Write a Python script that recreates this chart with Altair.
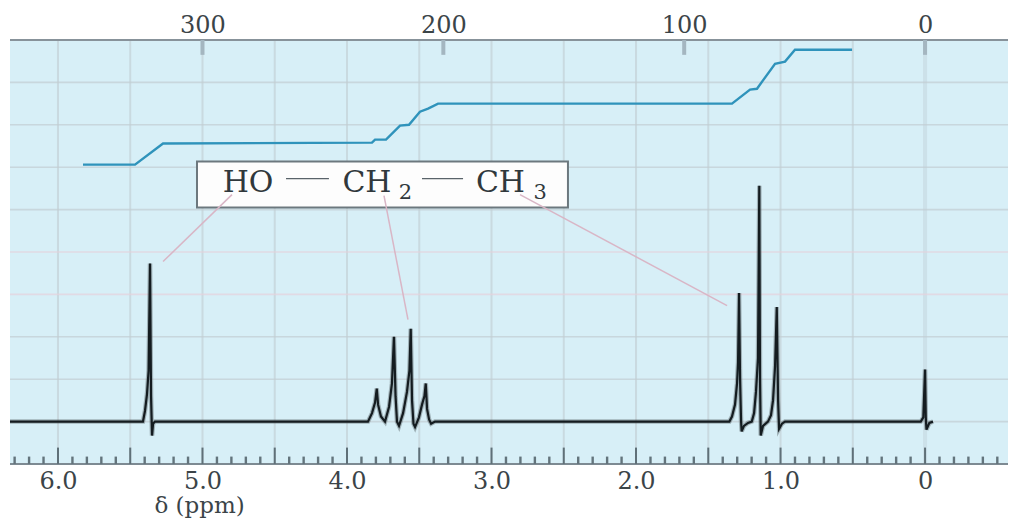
import altair as alt
import pandas as pd

# spectrum trace: delta in ppm, signal in grid divisions above the baseline
spec_ppm = [6.332, 5.412, 5.398, 5.384, 5.373, 5.363, 5.356, 5.349, 5.342, 5.329,
            3.855, 3.827, 3.806, 3.794, 3.785, 3.765, 3.737, 3.709, 3.689, 3.675, 3.664, 3.654, 3.640,
            3.612, 3.585, 3.568, 3.559, 3.550, 3.540, 3.529, 3.502, 3.481, 3.464, 3.455, 3.446, 3.432, 3.418, 3.391,
            1.354, 1.336, 1.315, 1.301, 1.294, 1.287, 1.280, 1.273, 1.269, 1.253, 1.225, 1.199,
            1.183, 1.170, 1.156, 1.147, 1.142, 1.137, 1.121, 1.087,
            1.066, 1.052, 1.038, 1.026, 1.017, 1.010, 0.990, 0.969,
            0.030, 0.012, 0.000, -0.005, -0.010, -0.030, -0.055]
spec_int = [0, 0, 0.25, 0.65, 1.2, 3.73, 0.6, -0.33, -0.05, 0,
            0, 0.2, 0.45, 0.78, 0.4, 0.12, 0, 0.35, 0.9, 2.0, 0.6, 0, -0.1,
            0.2, 0.7, 1.2, 2.19, 0.5, -0.05, -0.13, 0.1, 0.4, 0.6, 0.9, 0.3, 0.05, -0.05, 0,
            0, 0.12, 0.4, 0.9, 1.4, 3.03, 1.0, 0, -0.23, -0.1, -0.03, 0,
            0.2, 0.7, 1.5, 5.56, 1.0, -0.33, -0.1, 0,
            0.15, 0.5, 1.3, 2.7, 0.5, -0.17, -0.05, 0,
            0, 0.1, 1.23, 0.1, -0.19, -0.03, 0]

# integral trace
integ_ppm = [5.827, 5.467, 5.273, 3.827, 3.806, 3.730, 3.633, 3.571, 3.495, 3.439, 3.370,
             1.336, 1.211, 1.163, 1.038, 0.969, 0.900, 0.505]
integ_val = [6.06, 6.06, 6.56, 6.58, 6.65, 6.65, 6.98, 7.00, 7.31, 7.38, 7.50,
             7.50, 7.83, 7.85, 8.44, 8.49, 8.77, 8.77]

major_ppm = [0, 0.5, 1, 1.5, 2, 2.5, 3, 3.5, 4, 4.5, 5, 5.5, 6]
minor_ppm = [i / 10 for i in range(-5, 64) if i % 5 != 0 or i < 0]
bottom_labels = [0, 1, 2, 3, 4, 5, 6]
top_hz = [300, 200, 100, 0]
gray_rows = [1, 2, 5, 6, 7, 8, 0]
pink_rows = [3, 4]

# label box
box_ppm = [5.038, 2.471]
box_int = [6.132, 5.047]
label_text = ["HO", "CH", "2", "CH", "3"]
label_ppm = [4.685, 3.862, 3.595, 2.938, 2.664]
label_int = [5.62, 5.62, 5.40, 5.62, 5.40]
label_size = [30, 30, 21, 30, 21]
bond_ppm = [4.422, 3.481]
bond_ppm2 = [4.125, 3.197]
bond_int = [5.731, 5.731]
leader_id = [0, 0, 1, 1, 2, 2]
leader_ppm = [4.796, 5.273, 3.744, 3.578, 2.803, 1.370]
leader_int = [5.354, 3.774, 5.33, 2.406, 5.354, 2.736]

LEFT = 6.332
RIGHT = -0.574
X = alt.Scale(domain=[LEFT, RIGHT], nice=False, zero=False)
Y = alt.Scale(domain=[-1, 9], nice=False, zero=False)
x = alt.X("p:Q", scale=X, axis=None)
y = alt.Y("i:Q", scale=Y, axis=None)
SERIF = "DejaVu Serif"
INK = "#3b4448"

def vrules(vals, lo, hi, **kw):
    d = pd.DataFrame({"p": vals, "i": lo, "i2": hi})
    return alt.Chart(d).mark_rule(**kw).encode(x=x, y=y, y2="i2:Q")

def hrules(vals, color, width=1.6, opacity=0.7):
    d = pd.DataFrame({"i": vals, "p": LEFT, "p2": RIGHT})
    return alt.Chart(d).mark_rule(color=color, strokeWidth=width, opacity=opacity).encode(x=x, x2="p2:Q", y=y)

grid_v = vrules([v for v in major_ppm if v != 0], -1, 9, color="#c2ced4", strokeWidth=2, opacity=0.65)
grid_zero = vrules([0], -1, 9, color="#c9dde5", strokeWidth=4, opacity=0.8)
grid_h = hrules(gray_rows, "#c2cdd2")
grid_p = hrules(pink_rows, "#e6d2dc")

frame_top = hrules([9], "#87929a", 2, 1)
frame_bot = hrules([-1], "#7d8a92", 2, 1)

ticks_major = vrules(major_ppm, -1, -0.613, color="#5f7078", strokeWidth=2)
ticks_minor = vrules(minor_ppm, -1, -0.825, color="#63747c", strokeWidth=2.4)
ticks_top = vrules([h / 60 for h in top_hz], 8.65, 9, color="#a4b6c0", strokeWidth=4)

axis_bottom = alt.Chart(pd.DataFrame({"p": bottom_labels})).mark_point(opacity=0).encode(
    x=alt.X("p:Q", scale=X, axis=alt.Axis(
        orient="bottom", values=bottom_labels, title=None, ticks=False, domain=False, grid=False,
        labelPadding=5, labelFont=SERIF, labelFontSize=24, labelColor=INK, labelAngle=0,
        labelExpr="datum.value == 0 ? '0' : format(datum.value, '.1f')")))
axis_top = alt.Chart(pd.DataFrame({"p": [h / 60 for h in top_hz]})).mark_point(opacity=0).encode(
    x=alt.X("p:Q", scale=X, axis=alt.Axis(
        orient="top", values=[h / 60 for h in top_hz], title=None, ticks=False, domain=False, grid=False,
        labelPadding=3, labelFont=SERIF, labelFontSize=24, labelColor=INK, labelAngle=0,
        labelExpr="format(round(datum.value * 60), 'd')")))

xlabel = alt.Chart(pd.DataFrame({"p": [5.02], "i": [-2.0], "t": ["δ (ppm)"]})).mark_text(
    font=SERIF, fontSize=23, color=INK, clip=False).encode(x=x, y=y, text="t:N")

spec = pd.DataFrame({"p": spec_ppm, "i": spec_int, "o": range(len(spec_ppm))})
spec_halo = alt.Chart(spec).mark_line(color="#4a5458", strokeWidth=4.5, opacity=0.4, interpolate="linear").encode(x=x, y=y, order="o:Q")
spec_line = alt.Chart(spec).mark_line(color="#141c20", strokeWidth=2.2, interpolate="linear").encode(x=x, y=y, order="o:Q")

integ = pd.DataFrame({"p": integ_ppm, "i": integ_val, "o": range(len(integ_ppm))})
integ_line = alt.Chart(integ).mark_line(color="#2f93bb", strokeWidth=2.4).encode(x=x, y=y, order="o:Q")

box = alt.Chart(pd.DataFrame({"p": [box_ppm[0]], "p2": [box_ppm[1]], "i": [box_int[0]], "i2": [box_int[1]]})).mark_rect(
    fill="#fdfdfd", stroke="#6c787e", strokeWidth=2).encode(x=x, x2="p2:Q", y=y, y2="i2:Q")

bonds = alt.Chart(pd.DataFrame({"p": bond_ppm, "p2": bond_ppm2, "i": bond_int})).mark_rule(
    color="#59636a", strokeWidth=1.3).encode(x=x, x2="p2:Q", y=y)

labels = alt.Chart(pd.DataFrame({"p": label_ppm, "i": label_int, "t": label_text, "s": label_size})).mark_text(
    font=SERIF, color="#30383c", baseline="middle").encode(
    x=x, y=y, text="t:N", size=alt.Size("s:Q", scale=None, legend=None))

leaders = alt.Chart(pd.DataFrame({"p": leader_ppm, "i": leader_int, "g": leader_id})).mark_line(
    color="#d9b6c6", strokeWidth=1.5).encode(x=x, y=y, detail="g:N")

chart = alt.layer(
    grid_v, grid_zero, grid_h, grid_p, frame_top, frame_bot,
    ticks_minor, ticks_major, ticks_top,
    integ_line, spec_halo, spec_line, box, bonds, leaders, labels, xlabel,
    axis_bottom, axis_top,
).resolve_axis(x="independent").properties(
    width=998, height=424,
    padding={"left": 2, "top": 32, "right": 0, "bottom": 56},
    autosize=alt.AutoSizeParams(type="none"),
    background="white",
).configure_view(fill="#d7eff7", stroke=None)

chart.save("out.html", embed_options={"renderer": "svg", "actions": False})
